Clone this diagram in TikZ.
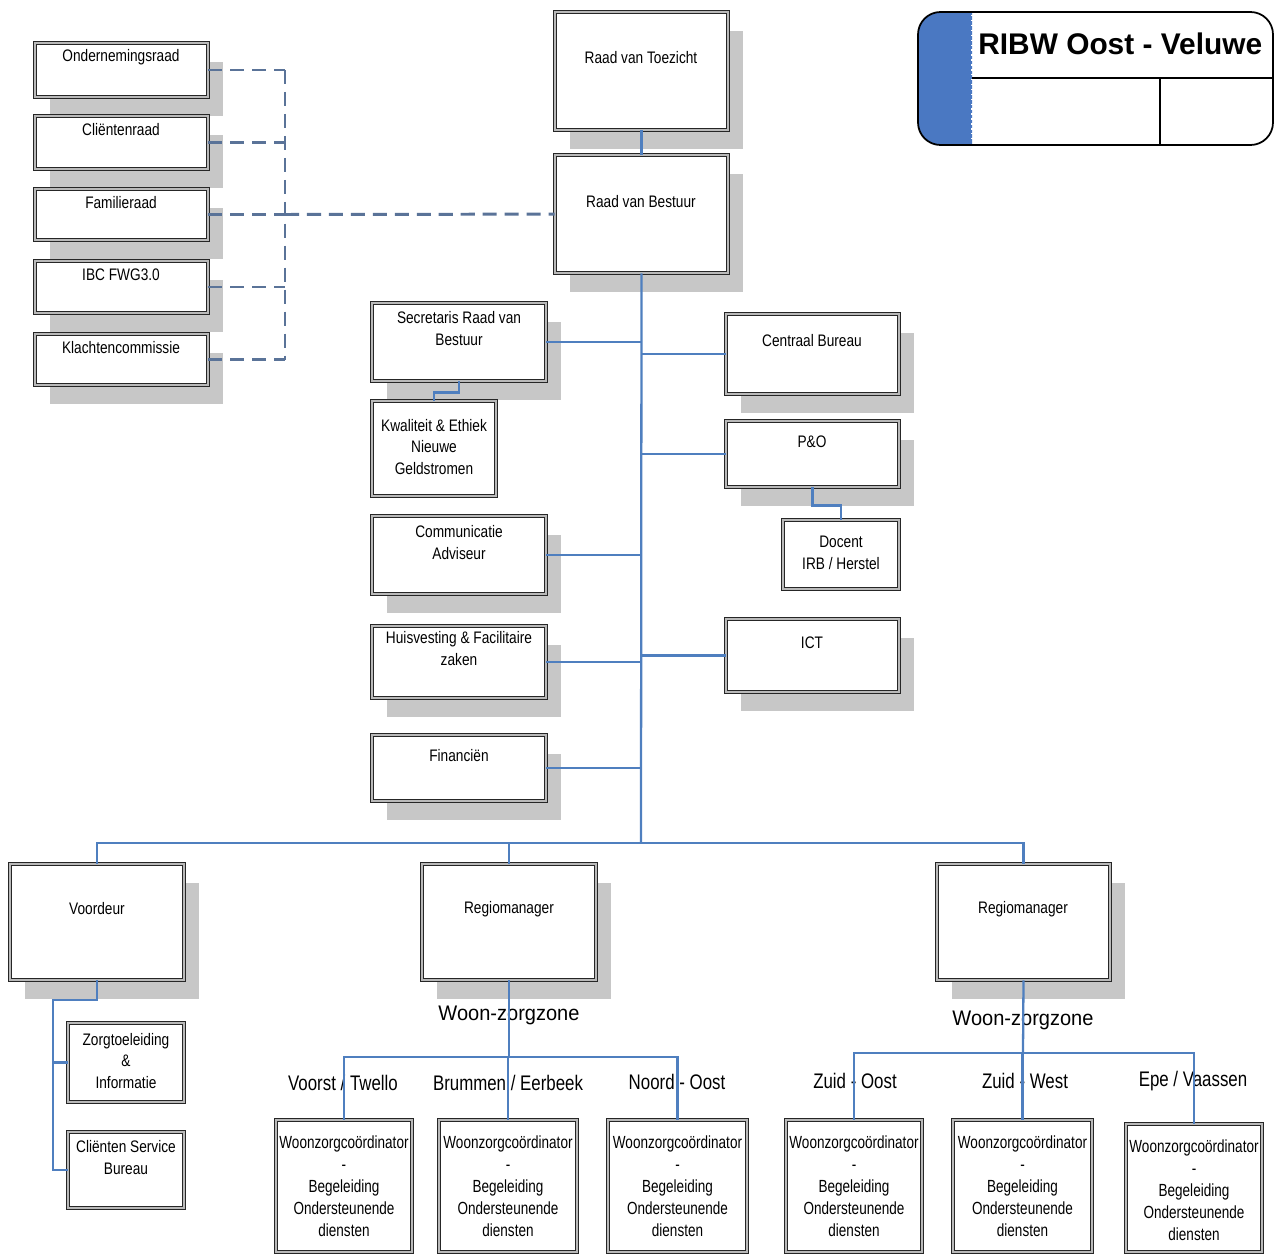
\documentclass[tikz,border=0pt]{standalone}
\usepackage{fontspec}
\setmainfont{Liberation Sans}
\newfontfamily\boxfont[FakeStretch=0.82]{Liberation Sans}
\newfontfamily\lowfont[FakeStretch=0.77]{Liberation Sans}
\newfontfamily\zonefont[FakeStretch=0.95]{Liberation Sans}
\newfontfamily\areafont[FakeStretch=0.8]{Liberation Sans}
\usepackage{tikz}
\usetikzlibrary{positioning,fit,shadows}
\definecolor{linkblue}{HTML}{4F7FBF}
\definecolor{advblue}{HTML}{5A7398}
\definecolor{titleblue}{HTML}{4A78C2}
\tikzset{org box/.style={rectangle,draw=black!85,double=gray!55,line width=0.5pt,double distance=1pt,fill=white,inner sep=0pt},
  org box shadow/.style={org box,drop shadow={shadow xshift=0.3cm,shadow yshift=-0.38cm,fill=gray!44,opacity=1}},
  box text/.style={font=\boxfont\fontsize{9.5}{12.5}\selectfont,align=center,inner sep=0pt},
  low text/.style={font=\lowfont\fontsize{10}{12.5}\selectfont,align=center,inner sep=0pt},
  zone text/.style={font=\zonefont\fontsize{12}{14}\selectfont,inner sep=0pt},
  area text/.style={font=\areafont\fontsize{12}{14}\selectfont,inner sep=0pt},
  title text/.style={font=\bfseries\fontsize{17}{20}\selectfont,inner sep=0pt},
  org link/.style={draw=linkblue,line width=1.3pt},
  advice line/.style={draw=advblue,line width=1.3pt,dash pattern=on 8pt off 4.5pt}}

\begin{document}
\begin{tikzpicture}[x=0.02cm,y=-0.02cm]
\useasboundingbox (0,0) rectangle (1275,1254);

% title block
\begin{scope}
  \clip (900,0) rectangle (972,160);
  \fill[titleblue,rounded corners=0.45cm] (918,12) rectangle (1273,145);
\end{scope}
\draw[line width=1pt,rounded corners=0.45cm] (918,12) rectangle (1273,145);
\draw[white,dotted,line width=0.8pt] (972,15) -- (972,142);
\draw[line width=0.8pt] (972,78) -- (1273,78) (1160,78) -- (1160,145);
\node[title text,anchor=west] (title) at (978,44) {RIBW Oost - Veluwe};

% board
\node[org box shadow,fit={(555,12) (728,130)}] (rvt) {};
\node[org box shadow,fit={(555,155) (728,273)}] (rvb) {};
\node[box text] (rvt-t) at (641,58) {Raad van Toezicht};
\node[box text] (rvb-t) at (641,202) {Raad van Bestuur};

% councils
\foreach \name/\top/\bot/\txt in {or/43/97/Ondernemingsraad,cr/116/169/Cliëntenraad,fr/189/240/Familieraad,ibc/261/313/IBC FWG3.0,kc/334/385/Klachtencommissie}{
  \node[org box shadow,fit={(35,\top) (208,\bot)}] (\name) {};
  \node[box text] (\name-t) at (121,\top+14) {\txt};
}

% staff
\node[org box shadow,fit={(372,303) (546,381)}] (sec) {};
\node[org box,fit={(372,401) (496,496)}] (kwal) {};
\node[org box shadow,fit={(372,516) (546,594)}] (com) {};
\node[org box shadow,fit={(372,626) (546,698)}] (huis) {};
\node[org box shadow,fit={(372,735) (546,801)}] (fin) {};
\node[org box shadow,fit={(726,314) (899,394)}] (cb) {};
\node[org box shadow,fit={(726,421) (899,487)}] (po) {};
\node[org box,fit={(783,520) (899,589)}] (doc) {};
\node[org box shadow,fit={(726,619) (899,692)}] (ict) {};
\node[box text] (sec-t) at (459,329) {Secretaris Raad van\\Bestuur};
\node[box text] (kwal-t) at (434,447) {Kwaliteit \& Ethiek\\Nieuwe\\Geldstromen};
\node[box text] (com-t) at (459,543) {Communicatie\\Adviseur};
\node[box text] (huis-t) at (459,649) {Huisvesting \& Facilitaire\\zaken};
\node[box text] (fin-t) at (459,756) {Financiën};
\node[box text] (cb-t) at (812,341) {Centraal Bureau};
\node[box text] (po-t) at (812,442) {P\&O};
\node[box text] (doc-t) at (841,553) {Docent\\IRB / Herstel};
\node[box text] (ict-t) at (812,643) {ICT};

% line
\node[org box shadow,fit={(10,864) (184,980)}] (voor) {};
\node[org box shadow,fit={(422,864) (596,980)}] (reg1) {};
\node[org box shadow,fit={(937,864) (1110,980)}] (reg2) {};
\node[org box,fit={(68,1023) (184,1102)}] (zorg) {};
\node[org box,fit={(68,1132) (184,1208)}] (csb) {};
\node[box text] (voor-t) at (97,909) {Voordeur};
\node[box text] (reg1-t) at (509,909) {Regiomanager};
\node[box text] (reg2-t) at (1023,909) {Regiomanager};
\node[box text] (zorg-t) at (126,1061) {Zorgtoeleiding\\\&\\Informatie};
\node[box text] (csb-t) at (126,1158) {Cliënten Service\\Bureau};

\node[zone text] (zone1-t) at (509,1015) {Woon-zorgzone};
\node[zone text] (zone2-t) at (1023,1020) {Woon-zorgzone};
\foreach \name/\x/\y/\txt in {vt/343/1083/{Voorst / Twello},be/508/1083/{Brummen / Eerbeek},no/677/1082/{Noord - Oost},zo/855/1081/{Zuid - Oost},zw/1025/1081/{Zuid - West},ev/1193/1081/{Epe / Vaassen}}
  \node[area text] (\name) at (\x,\y) {\txt};

\foreach \name/\l/\r/\t in {wz1/276/412/1120,wz2/439/577/1120,wz3/608/747/1120,wz4/786/922/1120,wz5/953/1092/1120,wz6/1126/1262/1124}{
  \node[org box,fit={(\l,\t) (\r,1252)}] (\name) {};
  \node[low text] (\name-t) at ({(\l+\r)/2},\t+66) {Woonzorgcoördinator\\-\\Begeleiding\\Ondersteunende\\diensten};
}

% connectors
\coordinate (bus) at (641,843);
\coordinate (adv) at (285,214);
\coordinate (vtrunk) at (53,1000);
\coordinate (zone1) at (509,1057);
\coordinate (zone2) at (1023,1053);

\foreach \name in {or,cr,fr,ibc,kc}
  \draw[advice line] (\name) -- (\name -| adv);
\draw[advice line] (or -| adv) -- (kc -| adv);
\draw[advice line,line width=1.7pt] (fr -| adv) -- (rvb);

\draw[org link] (rvt) -- (rvb);
\draw[org link] (rvb.south) -- (bus);
\foreach \name in {sec,com,huis,fin,cb,po,ict}
  \draw[org link] (\name) -- (\name -| bus);
\draw[org link] (sec.south) -- ++(0,11) -| (kwal.north);
\draw[org link] (po.south) -- ++(0,18) -| (doc.north);

\draw[org link] (voor.north) |- (bus) -| (reg2.north);
\draw[org link] (reg1.north) -- (reg1.north |- bus);
\draw[org link] (voor.south) |- (vtrunk) |- (csb.west);
\draw[org link] (zorg.west) -- (zorg.west -| vtrunk);

\draw[org link] (reg1.south) -- (zone1);
\draw[org link] (wz1.north) |- (zone1) -| (wz3.north);
\draw[org link] (wz2.north) -- (wz2.north |- zone1);
\draw[org link] (reg2.south) -- (zone2);
\draw[org link] (wz4.north) |- (zone2) -| (wz6.north);
\draw[org link] (wz5.north) -- (wz5.north |- zone2);
\end{tikzpicture}
\end{document}
